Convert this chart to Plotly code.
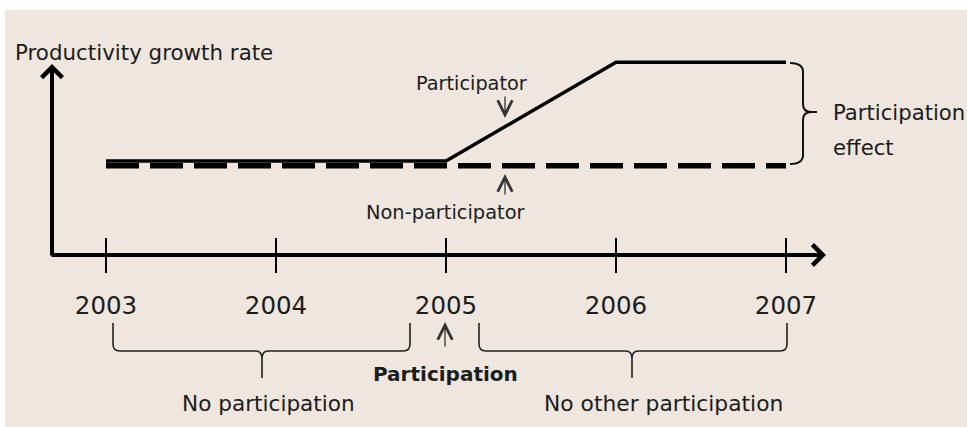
import plotly.graph_objects as go

# ---------------- data ----------------
years = [2003, 2004, 2005, 2006, 2007]
year_labels = ["2003", "2004", "2005", "2006", "2007"]
participator = [1.0, 1.0, 1.0, 2.05, 2.05]
non_participator = [0.95, 0.95, 0.95, 0.95, 0.95]
axis_level = [0, 0, 0, 0, 0]

# ---------------- calibration (pixels -> data) ----------------
W, H = 967, 427
PX_PER_YEAR = 170.0
X0_PX = 106.0      # pixel column of first year
Y0_PX = 255.0      # pixel row of the time axis (value 0)
PX_PER_UNIT = 94.0

def px2x(px):
    return years[0] + (px - X0_PX) / PX_PER_YEAR

def py2y(py):
    return (Y0_PX - py) / PX_PER_UNIT

def P(px, py):
    return f"{px2x(px):.5f},{py2y(py):.5f}"

FONT = "DejaVu Sans"
TXT = "#1c1c1c"
BG = "#EEE6DF"

fig = go.Figure()

fig.add_trace(go.Scatter(
    x=years, y=non_participator, mode="lines", name="Non-participator",
    line=dict(color="black", width=5.5, dash="33px,11px"),
    hoverinfo="skip", showlegend=False))
fig.add_trace(go.Scatter(
    x=years, y=participator, mode="lines", name="Participator",
    line=dict(color="black", width=3.5),
    hoverinfo="skip", showlegend=False))
# tick marks crossing the time axis (line-ns spans +-1.4*size/2)
fig.add_trace(go.Scatter(
    x=years, y=axis_level, mode="markers", name="ticks",
    marker=dict(symbol="line-ns", size=24.3, color="black",
                line=dict(color="black", width=2)),
    hoverinfo="skip", showlegend=False))

shapes = [
    dict(type="rect", xref="paper", yref="paper", x0=5 / W, x1=1, y0=0, y1=1 - 10 / H,
         fillcolor=BG, line=dict(width=0), layer="below"),
]

def brace_down(x0, x1, xm, yt=323, yh=351, yb=378):
    return (f"M {P(x0, yt)} L {P(x0, yh - 7)} Q {P(x0, yh)} {P(x0 + 7, yh)} "
            f"L {P(xm - 6, yh)} Q {P(xm, yh)} {P(xm, yh + 8)} L {P(xm, yb)} "
            f"M {P(xm, yh + 8)} Q {P(xm, yh)} {P(xm + 6, yh)} "
            f"L {P(x1 - 7, yh)} Q {P(x1, yh)} {P(x1, yh - 7)} L {P(x1, yt)}")

shapes.append(dict(type="path", xref="x", yref="y", path=brace_down(113, 410, 262),
                   line=dict(color="#222", width=1.6)))
shapes.append(dict(type="path", xref="x", yref="y", path=brace_down(479, 787, 632),
                   line=dict(color="#222", width=1.6)))

rb = (f"M {P(790, 63)} Q {P(803, 63)} {P(803, 72)} L {P(803, 104)} "
      f"Q {P(803, 112)} {P(811, 112)} L {P(817, 112)} "
      f"M {P(811, 112)} Q {P(803, 112)} {P(803, 120)} L {P(803, 155)} "
      f"Q {P(803, 164)} {P(790, 164)}")
shapes.append(dict(type="path", xref="x", yref="y", path=rb,
                   line=dict(color="#111", width=2)))

ann = []
# axes arrows
ann.append(dict(x=px2x(52), y=py2y(64), ax=px2x(52), ay=py2y(257), xref="x", yref="y",
                axref="x", ayref="y", text="", showarrow=True, arrowhead=4,
                arrowsize=1, arrowwidth=4, arrowcolor="black"))
ann.append(dict(x=px2x(826), y=py2y(255), ax=px2x(50), ay=py2y(255), xref="x", yref="y",
                axref="x", ayref="y", text="", showarrow=True, arrowhead=4,
                arrowsize=1, arrowwidth=4, arrowcolor="black"))
# small pointer arrows
for (xp, ytail, ytip) in [(505, 95, 118), (505, 196, 174), (445, 348, 322)]:
    ann.append(dict(x=px2x(xp), y=py2y(ytip), ax=px2x(xp), ay=py2y(ytail), xref="x",
                    yref="y", axref="x", ayref="y", text="", showarrow=True,
                    arrowhead=5, arrowsize=2.2, arrowwidth=1.3, arrowcolor="#333"))

def label(text, xp, yp, size, anchor="center", bold=False):
    return dict(x=px2x(xp), y=py2y(yp), xref="x", yref="y", text=(f"<b>{text}</b>" if bold else text),
                showarrow=False, xanchor=anchor, yanchor="middle",
                font=dict(family=FONT, size=size, color=TXT))

ann += [
    label("Productivity growth rate", 13, 52, 21.4, anchor="left"),
    label("Participator", 471, 83, 19.3),
    label("Non-participator", 445.5, 212, 19.4),
    label("Participation", 831, 112, 21.2, anchor="left"),
    label("effect", 831, 147, 21.2, anchor="left"),
    label("Participation", 445.5, 374, 20, bold=True),
    label("No participation", 268, 403, 21.6),
    label("No other participation", 663, 403, 21.8),
]

axis_pos = 1 - Y0_PX / H
fig.update_layout(
    width=W, height=H, margin=dict(l=0, r=0, t=0, b=0),
    paper_bgcolor="white", plot_bgcolor="rgba(0,0,0,0)",
    shapes=shapes, annotations=ann, showlegend=False,
    xaxis=dict(range=[px2x(0), px2x(W)], anchor="free", position=axis_pos,
               showgrid=False, zeroline=False, showline=False,
               tickmode="array", tickvals=years, ticktext=year_labels,
               ticks="outside", ticklen=17, tickwidth=2, tickcolor="black",
               tickfont=dict(family=FONT, size=24.5, color=TXT),
               ticklabelstandoff=12),
    yaxis=dict(range=[py2y(H), py2y(0)], visible=False, showgrid=False, zeroline=False),
)

fig.write_html(
    "out.html",
    config={"displayModeBar": False},
    post_script=("document.body.style.margin='0';"
                 "document.body.style.overflow='hidden';"
                 "document.documentElement.style.overflow='hidden';"),
)
